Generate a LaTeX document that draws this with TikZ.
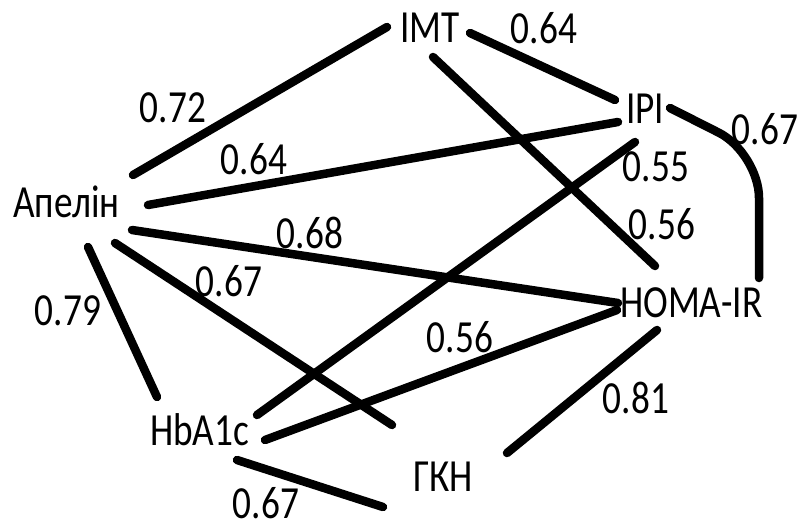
\documentclass[tikz,border=0pt]{standalone}
\usepackage{fontspec}
\setmainfont[FakeStretch=0.81]{Carlito}
\usetikzlibrary{calc}
\begin{document}
\begin{tikzpicture}[x=1pt,y=-1pt,
  txtstyle/.style={inner sep=0pt,font=\fontsize{46}{50}\selectfont},
  varname/.style={txtstyle,anchor=base west},
  corrval/.style={txtstyle,anchor=center},
  link/.style={line width=8.5pt,line cap=round,line join=round}]
\useasboundingbox (0,0) rectangle (802,527);
% nodes
\node[varname] (imt) at (400,42) {IMT};
\node[varname] (ipi) at (626,123) {IPI};
\node[varname] (ap) at (13,217) {Апелін};
\node[varname] (homa) at (620,317) {HOMA-IR};
\node[varname] (hb) at (150,445) {HbA1c};
\node[varname] (gkn) at (413,491) {ГКН};
% connectors
\draw[link] ($(imt.base west)+(-13,-15)$) -- ($(ap.base west)+(120,-42)$);
\draw[link] ($(imt.base west)+(70,-9)$) -- ($(ipi.base west)+(-11,-23)$);
\draw[link] ($(imt.base west)+(33,15)$) -- ($(homa.base west)+(35,-51)$);
\draw[link] ($(ipi.base west)+(-8,-1)$) -- ($(ap.base west)+(135,-12)$);
\draw[link] ($(ipi.base west)+(9,19)$) -- ($(hb.base west)+(107,-30)$);
\draw[link,rounded corners=45pt] ($(ipi.base west)+(44,-15)$) -- ($(ipi.base west)+(133,30)$) -- ($(homa.base west)+(139,-39)$);
\draw[link] ($(ap.base west)+(119,13)$) -- ($(homa.base west)+(-2,-14)$);
\draw[link] ($(ap.base west)+(102,26)$) -- ($(gkn.base west)+(-21,-66)$);
\draw[link] ($(ap.base west)+(75,30)$) -- ($(hb.base west)+(7,-48)$);
\draw[link] ($(hb.base west)+(115,-5)$) -- ($(homa.base west)+(-3,-7)$);
\draw[link] ($(homa.base west)+(37,13)$) -- ($(gkn.base west)+(94,-38)$);
\draw[link] ($(hb.base west)+(87,15)$) -- ($(gkn.base west)+(-30,16)$);
% values
\node[corrval] (v1) at (173,108) {0.72};
\node[corrval] (v2) at (254,159) {0.64};
\node[corrval] (v3) at (310,233) {0.68};
\node[corrval] (v4) at (544,28) {0.64};
\node[corrval] (v5) at (765,129) {0.67};
\node[corrval] (v6) at (656,167) {0.55};
\node[corrval] (v7) at (662,224) {0.56};
\node[corrval] (v8) at (229,281) {0.67};
\node[corrval] (v9) at (68,311) {0.79};
\node[corrval] (v10) at (266,503) {0.67};
\node[corrval] (v11) at (460,337) {0.56};
\node[corrval] (v12) at (636,398) {0.81};
\end{tikzpicture}
\end{document}
